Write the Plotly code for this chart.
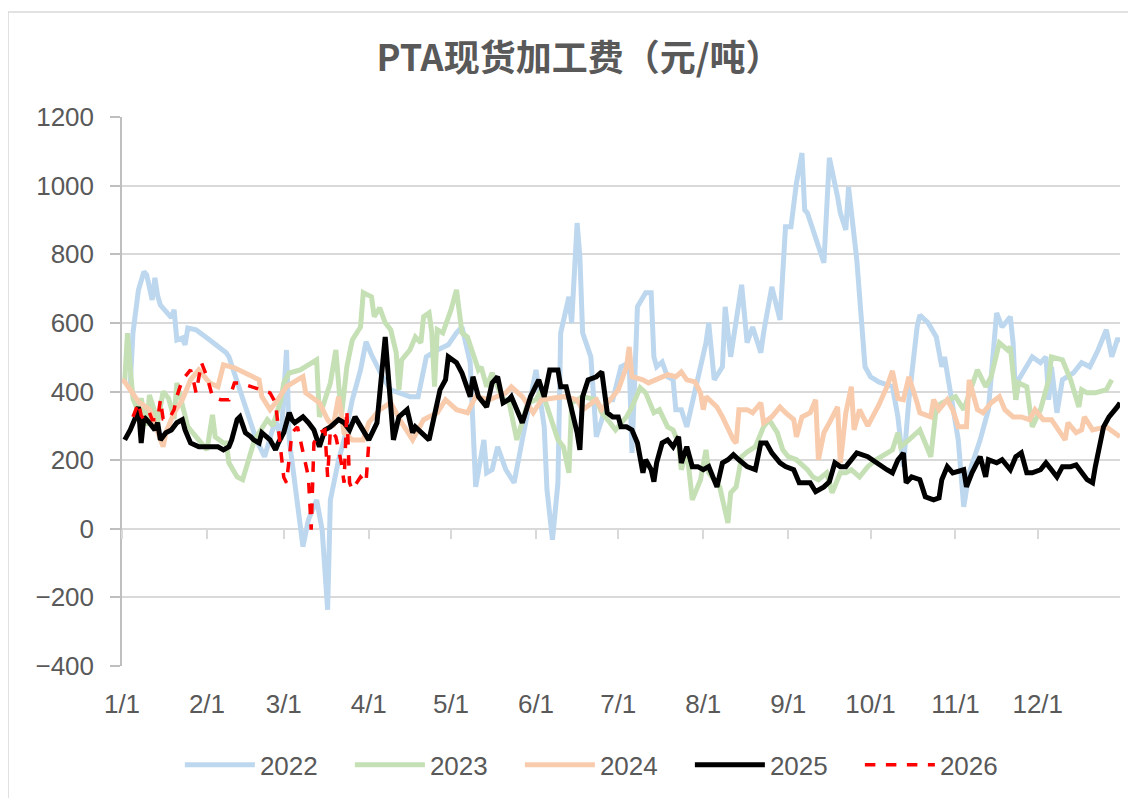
import plotly.graph_objects as go

# ---------------- data (x = day of year, y = 元/吨) ----------------
month_ticks = [1, 32, 60, 91, 121, 152, 182, 213, 244, 274, 305, 335]
month_labels = ["1/1", "2/1", "3/1", "4/1", "5/1", "6/1", "7/1", "8/1", "9/1", "10/1", "11/1", "12/1"]

d2022 = [4, 5, 7, 9, 10, 12, 13, 14, 15, 17, 19, 20, 21, 23, 24, 25, 28, 33, 39, 40, 45, 50, 53, 55, 57, 59, 61, 62,
         63, 67, 69, 71, 72, 74, 76, 77, 80, 82, 85, 88, 90, 92, 96, 99, 102, 106, 109, 112, 116, 120, 123, 125, 128,
         130, 133, 134, 136, 138, 141, 144, 147, 152, 155, 156, 158, 160, 161, 164, 165, 167, 168, 169, 172, 174, 176,
         178, 180, 183, 186, 187, 189, 192, 194, 195, 196, 198, 200, 202, 203, 205, 207, 211, 214, 215, 217, 220, 221,
         223, 227, 229, 231, 234, 235, 238, 241, 243, 245, 247, 249, 250, 251, 257, 259, 262, 263, 265, 266, 269, 271,
         272, 274, 277, 282, 284, 286, 288, 291, 292, 295, 298, 300, 301, 303, 306, 308, 310, 314, 317, 320, 322, 325,
         326, 327, 328, 333, 336, 338, 339, 340, 342, 344, 348, 351, 354, 357, 360, 362, 364, 365]
v2022 = [420, 571, 696, 749, 740, 667, 731, 679, 652, 632, 615, 638, 550, 556, 536, 585, 580, 550, 513, 501, 376, 259,
         210, 259, 318, 259, 521, 259, 201, -52, 26, 64, 84, -3, -236, 84, 201, 259, 376, 463, 545, 507, 443, 405, 396,
         385, 385, 501, 521, 536, 571, 588, 484, 122, 259, 163, 172, 239, 172, 134, 259, 463, 297, 114, -32, 134, 571,
         676, 600, 891, 792, 571, 501, 268, 318, 376, 376, 472, 484, 221, 647, 688, 688, 501, 472, 486, 443, 434, 347,
         347, 297, 443, 542, 600, 434, 472, 647, 501, 711, 542, 588, 513, 571, 705, 609, 880, 880, 1008, 1095, 929, 920,
         775, 1081, 967, 920, 871, 996, 784, 571, 472, 443, 428, 414, 326, 181, 376, 588, 623, 600, 559, 472, 501, 405,
         259, 64, 163, 259, 347, 629, 588, 618, 542, 376, 434, 501, 484, 501, 376, 472, 338, 434, 454, 484, 472, 521,
         580, 501, 551, 551]

d2023 = [2, 3, 4, 5, 7, 8, 10, 11, 13, 14, 16, 18, 20, 21, 25, 28, 32, 34, 35, 38, 39, 40, 43, 45, 47, 49, 51, 54, 56,
         59, 60, 62, 66, 68, 72, 73, 77, 79, 81, 83, 85, 88, 89, 92, 93, 95, 97, 99, 101, 102, 103, 106, 108, 110, 111,
         113, 114, 115, 116, 118, 121, 123, 125, 127, 129, 131, 132, 134, 136, 140, 142, 145, 149, 152, 154, 160, 162,
         164, 165, 169, 174, 176, 179, 181, 185, 187, 190, 192, 195, 197, 200, 202, 204, 205, 207, 209, 212, 214, 215,
         217, 219, 222, 223, 225, 227, 229, 232, 235, 237, 240, 242, 244, 247, 251, 253, 255, 258, 260, 263, 265, 267,
         270, 273, 276, 280, 282, 284, 285, 288, 292, 296, 298, 300, 303, 305, 308, 313, 316, 318, 321, 324, 325, 327,
         328, 331, 333, 336, 339, 340, 344, 347, 350, 351, 353, 356, 360, 362]
v2023 = [430, 570, 470, 380, 340, 380, 300, 390, 340, 310, 400, 380, 320, 425, 297, 268, 230, 332, 268, 250, 250, 192,
         151, 143, 192, 250, 280, 318, 300, 376, 425, 454, 463, 472, 492, 326, 425, 521, 326, 472, 550, 588, 688, 676,
         618, 644, 600, 580, 513, 405, 492, 521, 559, 542, 618, 629, 571, 414, 580, 571, 638, 696, 571, 559, 513, 463,
         472, 414, 454, 376, 376, 259, 367, 376, 405, 259, 239, 163, 367, 385, 376, 338, 309, 288, 326, 355, 411, 396,
         338, 347, 297, 288, 250, 172, 230, 84, 143, 230, 163, 143, 122, 17, 105, 122, 210, 224, 239, 297, 318, 280,
         230, 210, 201, 172, 151, 143, 163, 105, 163, 163, 172, 151, 181, 201, 221, 230, 280, 239, 259, 288, 210, 355,
         367, 376, 385, 347, 463, 414, 443, 542, 521, 530, 376, 425, 414, 297, 347, 434, 501, 492, 434, 355, 405, 396,
         396, 405, 434]

d2024 = [1, 2, 4, 7, 11, 14, 16, 17, 20, 23, 26, 29, 33, 36, 38, 42, 47, 51, 52, 55, 57, 61, 65, 67, 68, 71, 73, 76,
         78, 80, 82, 85, 89, 91, 95, 99, 103, 107, 111, 116, 119, 123, 127, 130, 135, 141, 143, 147, 151, 154, 162, 167,
         169, 174, 176, 180, 182, 185, 186, 187, 191, 193, 196, 200, 203, 205, 207, 210, 212, 213, 214, 218, 220, 222,
         224, 225, 226, 229, 231, 234, 235, 238, 241, 243, 246, 247, 249, 252, 254, 255, 257, 259, 262, 263, 265, 267,
         268, 270, 273, 277, 280, 282, 284, 286, 288, 291, 292, 296, 297, 299, 302, 304, 306, 309, 310, 313, 315, 318,
         321, 323, 326, 329, 332, 334, 337, 340, 343, 345, 346, 349, 351, 352, 355, 360, 363, 365]
v2024 = [434, 428, 405, 370, 347, 280, 239, 280, 338, 376, 434, 463, 425, 414, 478, 469, 449, 434, 385, 347, 367, 414,
         434, 443, 396, 376, 367, 318, 297, 385, 280, 259, 259, 309, 347, 367, 309, 259, 318, 338, 376, 347, 338, 385,
         376, 396, 414, 385, 338, 376, 385, 376, 347, 376, 347, 385, 405, 472, 530, 443, 434, 425, 434, 449, 443, 457,
         434, 428, 396, 347, 385, 355, 326, 288, 259, 250, 347, 347, 338, 367, 309, 326, 355, 338, 318, 268, 326, 338,
         376, 201, 280, 309, 355, 192, 338, 414, 288, 347, 300, 360, 414, 460, 380, 376, 443, 367, 338, 326, 376, 347,
         376, 347, 297, 297, 434, 347, 338, 367, 385, 347, 326, 326, 318, 347, 318, 318, 280, 259, 309, 280, 288, 326,
         288, 297, 280, 268]

d2025 = [2, 4, 6, 7, 8, 9, 11, 12, 13, 14, 15, 17, 19, 21, 23, 24, 26, 29, 33, 36, 38, 40, 41, 43, 44, 46, 48, 49, 51,
         52, 55, 57, 58, 60, 62, 63, 64, 67, 69, 71, 73, 75, 77, 80, 82, 84, 86, 88, 91, 94, 97, 100, 102, 105, 107,
         108, 113, 117, 119, 120, 123, 125, 128, 129, 131, 134, 136, 138, 140, 142, 143, 147, 150, 153, 155, 157, 160,
         161, 163, 167, 168, 169, 171, 174, 176, 178, 180, 182, 183, 185, 187, 189, 191, 192, 194, 195, 196, 198, 200,
         202, 204, 205, 207, 209, 211, 213, 215, 218, 220, 222, 224, 226, 229, 232, 234, 236, 238, 241, 243, 246, 248,
         252, 254, 257, 259, 261, 263, 265, 269, 273, 276, 280, 282, 284, 285, 286, 287, 289, 292, 294, 297, 299, 300,
         302, 304, 308, 309, 311, 314, 316, 317, 320, 322, 325, 327, 329, 331, 333, 336, 338, 340, 342, 344, 347, 349,
         351, 353, 355, 356, 359, 361, 364, 365]
v2025 = [259, 288, 326, 355, 250, 326, 309, 297, 288, 309, 259, 280, 288, 309, 318, 288, 250, 239, 239, 239, 230, 239,
         259, 318, 326, 280, 268, 259, 250, 280, 259, 230, 250, 280, 338, 318, 309, 326, 309, 288, 239, 288, 297, 318,
         309, 288, 326, 297, 259, 309, 559, 259, 326, 347, 280, 297, 259, 405, 434, 501, 484, 454, 385, 443, 385, 355,
         425, 443, 367, 376, 385, 309, 385, 434, 385, 463, 463, 414, 414, 280, 230, 385, 434, 443, 457, 338, 326, 326,
         297, 297, 288, 250, 163, 201, 172, 137, 192, 250, 259, 239, 268, 192, 239, 181, 181, 172, 181, 122, 192, 201,
         216, 201, 181, 172, 250, 250, 221, 192, 181, 172, 134, 134, 108, 122, 137, 192, 181, 181, 221, 210, 192, 172,
         163, 201, 210, 221, 134, 151, 143, 93, 84, 90, 143, 181, 163, 172, 122, 163, 210, 151, 201, 192, 201, 172, 210,
         221, 163, 163, 172, 192, 172, 151, 181, 181, 186, 163, 143, 134, 181, 297, 326, 355, 367]

d2026 = [5, 6, 7, 8, 9, 11, 12, 14, 15, 16, 18, 20, 21, 23, 25, 26, 27, 28, 30, 32, 34, 37, 40, 42, 44, 48, 52, 55, 57,
         58, 59, 60, 61, 62, 63, 65, 67, 68, 69, 70, 71, 73, 75, 76, 77, 79, 81, 82, 83, 84, 85, 88, 90, 91]
v2026 = [326, 347, 367, 330, 318, 338, 318, 318, 376, 320, 318, 347, 385, 434, 454, 463, 434, 396, 484, 443, 385, 376,
         376, 425, 425, 414, 405, 396, 367, 297, 221, 150, 134, 210, 280, 297, 221, 181, 151, -3, 250, 280, 288, 151,
         288, 268, 192, 134, 347, 134, 114, 151, 134, 250]

series = [
    ("2022", d2022, v2022, "#BDD7EE", 5, "solid"),
    ("2023", d2023, v2023, "#C5E0B4", 5, "solid"),
    ("2024", d2024, v2024, "#F8CBAD", 5, "solid"),
    ("2025", d2025, v2025, "#000000", 5, "solid"),
    ("2026", d2026, v2026, "#FF0000", 3.5, "dash"),
]

TXT = "#595959"
GRID = "#D9D9D9"
AXIS = "#BFBFBF"
TICKFONT = dict(family="Liberation Sans, Arial", size=26, color=TXT)

fig = go.Figure()
for name, d, v, color, w, dash in series:
    fig.add_trace(go.Scatter(x=d, y=v, name=name, mode="lines",
                             line=dict(color=color, width=w, dash=dash)))

# invisible helper trace for the secondary x-axis (tick marks at y = 0)
fig.add_trace(go.Scatter(x=[month_ticks[0]], y=[0], xaxis="x2", mode="lines",
                         showlegend=False, hoverinfo="skip", line=dict(width=0)))

fig.update_layout(
    width=1136, height=798,
    paper_bgcolor="white", plot_bgcolor="white",
    margin=dict(l=114, r=24, t=109, b=140, autoexpand=False),
    title=dict(text="<b>PTA现货加工费（元/吨）</b>", x=571 / 1136, xref="container", xanchor="center",
               y=1 - 50 / 798, yanchor="middle",
               font=dict(family="Noto Sans CJK SC", size=36, color=TXT)),
    xaxis=dict(range=[1, 365], tickmode="array", tickvals=month_ticks, ticktext=month_labels,
               showgrid=False, zeroline=False, showline=False, ticks="", tickfont=TICKFONT,
               ticklabelstandoff=20, automargin=False),
    xaxis2=dict(range=[1, 365], overlaying="x", anchor="free", position=0.25, tickmode="array",
                tickvals=month_ticks, ticks="outside", ticklen=9, tickwidth=1.5, tickcolor=GRID,
                showticklabels=False, showgrid=False, zeroline=False, showline=False),
    yaxis=dict(range=[-400, 1200], dtick=200, tick0=0, showgrid=True, gridcolor=GRID, gridwidth=1.5,
               zeroline=False, showline=True, linecolor=AXIS, linewidth=1.5, ticks="outside",
               ticklen=10, tickwidth=1.5, tickcolor=AXIS, tickfont=TICKFONT, ticklabelstandoff=11,
               automargin=False),
    legend=dict(orientation="h", x=0.058, xanchor="left", y=-0.18, yanchor="middle",
                font=TICKFONT, entrywidth=85, entrywidthmode="pixels", itemwidth=70,
                bgcolor="rgba(0,0,0,0)"),
    showlegend=True,
    shapes=[
        dict(type="line", xref="paper", yref="paper", x0=-0.1142, x1=-0.1142, y0=-0.3, y1=1.1913,
             line=dict(color=GRID, width=1.5)),
        dict(type="line", xref="paper", yref="paper", x0=-0.1142, x1=1.1, y0=1.1913, y1=1.1913,
             line=dict(color=GRID, width=1.5)),
    ],
)

fig.write_html("out.html")
